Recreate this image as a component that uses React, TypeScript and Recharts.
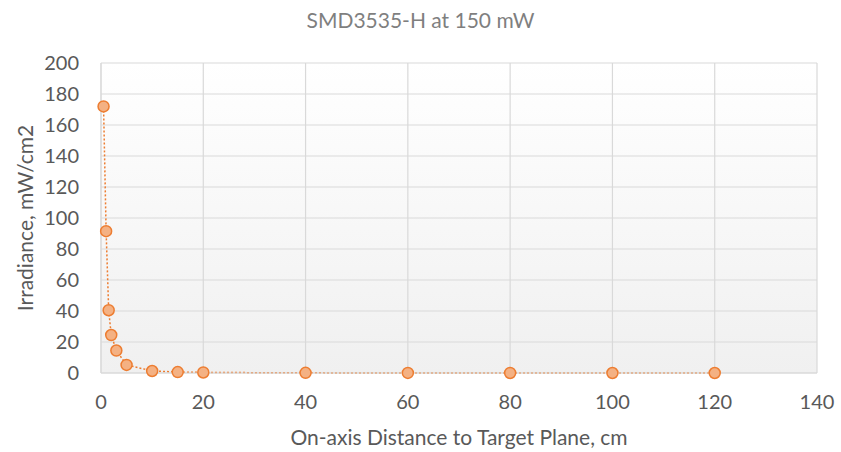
import React from 'react';
import { LineChart, Line, XAxis, YAxis, CartesianGrid } from 'recharts';

// on-axis distance (cm) and measured irradiance (mW/cm2)
const distances = [0.5, 1, 1.5, 2, 3, 5, 10, 15, 20, 40, 60, 80, 100, 120];
const irradiance = [172, 91.5, 40.5, 24.5, 14.5, 5.2, 1.3, 0.6, 0.35, 0.09, 0.04, 0.02, 0.01, 0.01];
const xTicks = [0, 20, 40, 60, 80, 100, 120, 140];
const yTicks = [0, 20, 40, 60, 80, 100, 120, 140, 160, 180, 200];

const data = distances.map((d, i) => ({ x: d, y: irradiance[i] }));

const font = 'Lato, "Open Sans", sans-serif';
const tick = { fill: '#595959', fontSize: 20, fontFamily: font };

const App: React.FC = () => (
  <div style={{ position: 'absolute', left: 0, top: 0, width: 841, height: 452, background: '#fff', fontFamily: font }}>
    <div style={{ position: 'absolute', top: 7, width: 841, textAlign: 'center', fontSize: 21, color: '#7f7f7f' }}>
      SMD3535-H at 150 mW
    </div>
    <LineChart width={841} height={452} data={data} margin={{ top: 63, right: 24, bottom: 0, left: 0 }}>
      <defs>
        <linearGradient id="plotBg" x1="0" y1="0" x2="0" y2="1">
          <stop offset="0%" stopColor="#ffffff" />
          <stop offset="100%" stopColor="#f0f0f0" />
        </linearGradient>
      </defs>
      <CartesianGrid stroke="#d9d9d9" strokeWidth={1.2} fill="url(#plotBg)" fillOpacity={1} />
      <XAxis
        type="number"
        dataKey="x"
        domain={[0, 140]}
        ticks={xTicks}
        height={79}
        axisLine={{ stroke: '#d9d9d9' }}
        tickLine={false}
        tickSize={0}
        tickMargin={22}
        tick={tick}
        label={{ value: 'On-axis Distance to Target Plane, cm', position: 'center', dy: 25, fill: '#595959', fontSize: 21, fontFamily: font }}
      />
      <YAxis
        type="number"
        domain={[0, 200]}
        ticks={yTicks}
        width={101}
        axisLine={{ stroke: '#d9d9d9' }}
        tickLine={false}
        tickSize={0}
        tickMargin={22}
        tick={tick}
        label={{ value: 'Irradiance, mW/cm2', angle: -90, position: 'center', dx: -25, fill: '#595959', fontSize: 21, fontFamily: font }}
      />
      <Line
        dataKey="y"
        type="linear"
        stroke="#ED7D31"
        strokeWidth={1.5}
        strokeDasharray="2 2"
        dot={{ r: 5.5, fill: '#F4B183', stroke: '#ED7D31', strokeWidth: 1.5, strokeDasharray: 'none' }}
        isAnimationActive={false}
      />
    </LineChart>
  </div>
);

export default App;
